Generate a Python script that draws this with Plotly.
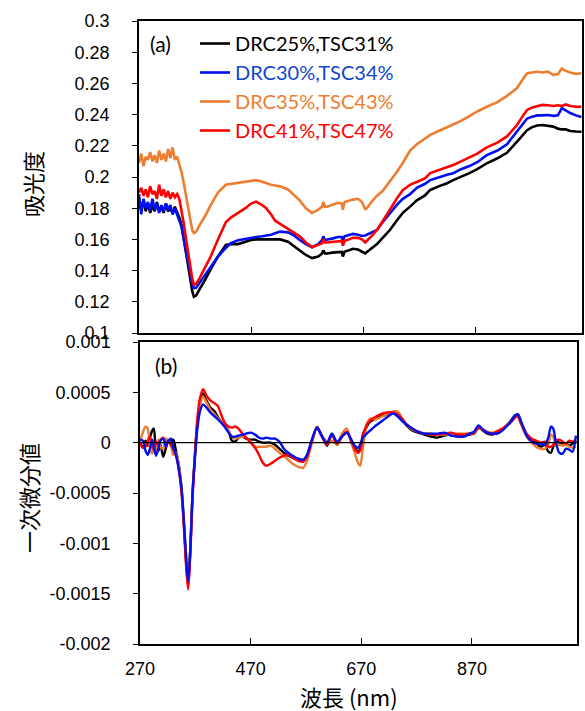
import plotly.graph_objects as go

# ---------------- data ----------------
# (a) absorbance spectra, wavelength in nm
wl_a = [270, 274, 278, 282, 286, 290, 294, 298, 302, 306, 310, 314, 318, 322, 326, 330, 334, 338,
        342, 346, 350, 355, 360, 365, 368, 372, 378, 388, 398, 411, 425, 434, 447, 460, 470, 479,
        490, 497, 506, 513, 522, 536, 545, 557, 568, 579, 590, 597, 599, 602, 606, 615, 625, 632,
        634, 637, 645, 652, 661, 668, 674, 677, 685, 695, 705, 718, 730, 741, 754, 766, 780, 790,
        805, 820, 831, 845, 860, 874, 891, 910, 927, 945, 955, 963, 972, 981, 990, 1000, 1010,
        1018, 1025, 1032, 1040, 1050, 1060]

abs_drc25 = [0.184, 0.179, 0.185, 0.178, 0.183, 0.177, 0.182, 0.178, 0.184, 0.178, 0.181, 0.177,
             0.183, 0.178, 0.180, 0.177, 0.181, 0.178, 0.174, 0.169, 0.160, 0.148, 0.137, 0.127,
             0.1233, 0.124, 0.128, 0.134, 0.141, 0.149, 0.1564, 0.157, 0.157, 0.1585, 0.1596, 0.160,
             0.160, 0.160, 0.160, 0.160, 0.160, 0.1585, 0.156, 0.1532, 0.150, 0.148, 0.149, 0.151,
             0.153, 0.151, 0.151, 0.1515, 0.152, 0.152, 0.149, 0.152, 0.153, 0.154, 0.1535, 0.152,
             0.151, 0.152, 0.154, 0.157, 0.161, 0.166, 0.172, 0.177, 0.181, 0.185, 0.188, 0.1917,
             0.194, 0.196, 0.198, 0.200, 0.2025, 0.205, 0.2088, 0.212, 0.2155, 0.2227, 0.227, 0.230,
             0.232, 0.233, 0.2333, 0.233, 0.2323, 0.231, 0.2305, 0.2305, 0.2295, 0.2292, 0.229]

abs_drc30 = [0.189, 0.176, 0.186, 0.180, 0.184, 0.178, 0.186, 0.179, 0.183, 0.177, 0.182, 0.178,
             0.183, 0.179, 0.182, 0.176, 0.180, 0.176, 0.172, 0.168, 0.160, 0.150, 0.140, 0.132,
             0.1288, 0.129, 0.132, 0.1372, 0.143, 0.149, 0.1545, 0.1577, 0.1595, 0.1605, 0.161, 0.1615,
             0.162, 0.1625, 0.163, 0.164, 0.165, 0.1645, 0.163, 0.1596, 0.157, 0.155, 0.157, 0.1596,
             0.162, 0.159, 0.160, 0.1605, 0.1615, 0.1615, 0.159, 0.162, 0.163, 0.1635, 0.163, 0.1622,
             0.1625, 0.163, 0.1645, 0.166, 0.171, 0.177, 0.182, 0.186, 0.189, 0.193, 0.1955, 0.198,
             0.200, 0.2015, 0.2024, 0.205, 0.207, 0.2095, 0.214, 0.217, 0.221, 0.229, 0.234, 0.2375,
             0.2387, 0.2395, 0.2395, 0.2397, 0.2392, 0.2395, 0.2442, 0.2425, 0.241, 0.2395, 0.2385]

abs_drc35 = [0.209, 0.215, 0.207, 0.213, 0.211, 0.216, 0.210, 0.214, 0.209, 0.217, 0.211, 0.215,
             0.210, 0.218, 0.212, 0.219, 0.211, 0.213, 0.208, 0.203, 0.196, 0.186, 0.175, 0.166,
             0.164, 0.165, 0.169, 0.175, 0.182, 0.190, 0.195, 0.1955, 0.196, 0.197, 0.1975, 0.198,
             0.197, 0.196, 0.195, 0.1945, 0.194, 0.192, 0.189, 0.185, 0.180, 0.177, 0.179, 0.181,
             0.184, 0.181, 0.181, 0.182, 0.1835, 0.183, 0.179, 0.184, 0.185, 0.1855, 0.186, 0.184,
             0.1795, 0.180, 0.184, 0.188, 0.191, 0.197, 0.203, 0.209, 0.217, 0.221, 0.2245, 0.227,
             0.2295, 0.232, 0.2335, 0.236, 0.239, 0.242, 0.245, 0.248, 0.252, 0.257, 0.2625, 0.2665,
             0.267, 0.2675, 0.267, 0.2675, 0.2655, 0.266, 0.2695, 0.268, 0.267, 0.266, 0.2665]

abs_drc41 = [0.190, 0.193, 0.188, 0.192, 0.187, 0.194, 0.189, 0.191, 0.186, 0.195, 0.188, 0.192,
             0.187, 0.191, 0.186, 0.190, 0.187, 0.189, 0.186, 0.179, 0.170, 0.158, 0.146, 0.135,
             0.131, 0.1315, 0.135, 0.1425, 0.149, 0.160, 0.171, 0.174, 0.177, 0.180, 0.183, 0.1842,
             0.182, 0.180, 0.176, 0.172, 0.170, 0.167, 0.165, 0.162, 0.158, 0.155, 0.1565, 0.1575,
             0.160, 0.158, 0.158, 0.1585, 0.159, 0.159, 0.156, 0.159, 0.160, 0.161, 0.161, 0.160,
             0.158, 0.159, 0.162, 0.166, 0.172, 0.179, 0.186, 0.1915, 0.195, 0.197, 0.199, 0.2025,
             0.2045, 0.206, 0.2077, 0.210, 0.2125, 0.215, 0.219, 0.222, 0.226, 0.2333, 0.239, 0.243,
             0.2445, 0.2455, 0.2462, 0.246, 0.2455, 0.246, 0.2455, 0.2465, 0.2455, 0.245, 0.245]

# (b) first derivative spectra, values in units of 1e-4
DERIV_UNIT = 1e-4
wl_b = [270, 275, 280, 284, 288, 292, 295, 299, 303, 307, 312, 317, 321, 326, 330, 335, 340, 345,
        349, 353, 357, 361, 365, 369, 373, 378, 384, 390, 397, 405, 411, 418, 424, 430, 436, 442,
        448, 455, 462, 470, 478, 485, 492, 498, 506, 514, 522, 530, 538, 546, 556, 565, 572, 580,
        590, 598, 608, 617, 626, 635, 644, 652, 658, 664, 668, 673, 680, 686, 694, 704, 716, 727,
        736, 745, 752, 762, 772, 784, 796, 808, 820, 832, 845, 856, 866, 874, 882, 890, 898, 907,
        916, 925, 934, 942, 948, 953, 958, 963, 970, 978, 986, 994, 1002, 1008, 1013, 1017, 1022,
        1028, 1034, 1040, 1046, 1052, 1058]

der_drc25 = [0.0, -0.5, 0.2, -0.3, 0.5, 1.2, 1.4, -0.6, -0.8, -0.2, -1.4, -0.5, 0.2, 0.2, 0.3, -0.8,
             -2.2, -4.5, -7.8, -11.5, -14.3, -10.5, -5.0, -1.5, 1.5, 3.8, 4.9, 4.2, 3.5, 3.1, 2.5,
             2.0, 1.6, 1.2, 0.2, 0.1, 0.5, 0.6, 0.4, 0.3, 0.3, 0.1, 0.0, 0.0, 0.0, -0.2, -0.6, -1.0,
             -1.3, -1.5, -1.6, -1.7, -1.3, 0.0, 1.5, 0.8, -0.3, 0.9, -0.2, 0.6, 1.0, 0.2, -0.4, -0.9,
             -0.6, 0.8, 1.6, 2.1, 2.3, 2.6, 2.8, 2.9, 2.8, 2.2, 1.7, 1.2, 1.0, 0.8, 0.6, 0.5, 0.7,
             0.8, 0.6, 0.7, 0.8, 0.9, 1.5, 1.2, 0.9, 0.8, 1.0, 1.3, 1.8, 2.3, 2.7, 2.8, 2.2, 1.4,
             0.6, 0.2, 0.0, -0.4, -0.2, -0.9, -1.0, -0.4, 0.2, 0.0, -0.2, -0.1, -0.3, -0.1, 0.2]

der_drc30 = [0.3, 0.2, -0.8, -1.2, -0.6, 0.3, -0.4, -1.3, -0.6, 0.2, 0.4, -0.4, 0.2, 0.4, -0.5, -1.2,
             -2.6, -4.5, -7.5, -11.0, -13.8, -10.5, -5.0, -1.8, 1.0, 3.0, 3.8, 3.5, 3.0, 2.6, 2.3,
             1.9, 1.5, 1.0, 0.6, 0.6, 0.7, 0.8, 0.9, 1.0, 0.8, 0.5, 0.4, 0.5, 0.4, 0.4, 0.1, -0.6,
             -1.0, -1.3, -1.6, -1.7, -1.2, 0.2, 1.5, 0.7, 0.0, 0.9, 0.1, 0.6, 1.0, 0.3, -0.3, -0.5,
             -0.2, 0.5, 0.9, 1.2, 1.6, 2.0, 2.5, 2.9, 2.6, 2.1, 1.8, 1.4, 1.1, 0.9, 0.9, 0.9, 1.0,
             0.7, 0.6, 0.6, 0.9, 1.1, 1.7, 1.3, 1.0, 0.9, 0.9, 1.2, 1.7, 2.2, 2.7, 2.8, 2.2, 1.5,
             0.6, 0.1, -0.1, -0.1, -0.2, 0.5, 1.6, 1.4, 0.0, -1.0, -1.1, -0.6, -0.7, -0.9, 0.7]

der_drc35 = [0.0, 1.0, 1.6, 1.4, -0.5, -1.1, -0.6, -0.9, 0.3, -0.4, -0.6, 0.4, 0.2, -0.2, -1.2, -1.0,
             -2.2, -4.5, -7.5, -11.0, -14.0, -10.5, -5.0, -1.5, 1.5, 3.5, 4.6, 4.0, 3.3, 2.8, 2.4,
             2.0, 1.6, 1.2, 0.6, 0.4, 0.5, 0.6, 0.5, 0.1, -0.4, -0.4, -0.4, -0.4, -0.3, -0.6, -1.0,
             -1.3, -1.7, -2.1, -2.4, -2.5, -1.8, -0.2, 1.6, 0.8, 0.1, 0.2, -0.2, 0.9, 1.4, 0.0, -1.0,
             -2.0, -2.3, -0.5, 1.8, 2.4, 2.3, 2.5, 2.8, 3.1, 3.1, 2.3, 1.8, 1.3, 1.1, 0.9, 0.9, 0.8,
             0.8, 0.8, 0.9, 0.9, 0.9, 1.0, 1.4, 1.3, 1.1, 1.0, 1.2, 1.4, 1.8, 2.2, 2.6, 2.6, 2.0,
             1.2, 0.5, 0.0, -0.4, -0.6, -0.6, -0.2, 0.8, 0.6, -0.3, -0.2, -0.3, -0.2, -0.4, -0.5, -0.4]

der_drc41 = [0.0, -0.5, -0.4, 0.2, 0.6, -0.4, -0.7, 0.1, -0.3, 0.3, 0.5, -0.2, 0.2, -0.3, -0.6, -1.3,
             -2.6, -5.0, -8.0, -12.0, -14.6, -11.0, -5.5, -1.5, 2.0, 4.3, 5.3, 4.7, 4.2, 3.9, 3.6,
             2.6, 1.9, 1.6, 1.5, 1.6, 1.4, 0.9, 0.5, 0.0, -0.5, -1.2, -2.0, -2.3, -2.1, -1.8, -1.5,
             -1.3, -1.2, -1.5, -1.8, -1.9, -1.4, 0.0, 1.5, 0.7, -0.2, 0.8, -0.1, 0.6, 1.1, 0.1, -0.6,
             -1.0, -0.8, 0.7, 1.8, 2.2, 2.5, 2.8, 3.0, 3.0, 2.8, 2.3, 1.8, 1.4, 1.1, 0.9, 0.8, 0.8,
             0.9, 1.0, 0.8, 0.8, 0.9, 1.0, 1.5, 1.3, 1.0, 0.9, 1.1, 1.4, 1.7, 2.1, 2.5, 2.6, 2.0,
             1.5, 0.8, 0.4, 0.2, 0.0, 0.1, -0.4, -0.4, -0.2, 0.2, 0.3, 0.1, -0.1, 0.2, 0.1, 0.3]

series_names = ["DRC25%,TSC31%", "DRC30%,TSC34%", "DRC35%,TSC43%", "DRC41%,TSC47%"]
line_colors = ["#000000", "#0010F0", "#ED7D31", "#FF0000"]
text_colors = ["#000000", "#1046D0", "#ED7D31", "#FF0000"]

abs_series = [abs_drc25, abs_drc30, abs_drc35, abs_drc41]
der_series = [der_drc25, der_drc30, der_drc35, der_drc41]

a_ticks = [0.1, 0.12, 0.14, 0.16, 0.18, 0.2, 0.22, 0.24, 0.26, 0.28, 0.3]
a_ticklabels = ["0.1", "0.12", "0.14", "0.16", "0.18", "0.2", "0.22", "0.24", "0.26", "0.28", "0.3"]
b_ticks = [-0.002, -0.0015, -0.001, -0.0005, 0, 0.0005, 0.001]
b_ticklabels = ["-0.002", "-0.0015", "-0.001", "-0.0005", "0", "0.0005", "0.001"]
x_ticks = [270, 470, 670, 870]

# ---------------- figure ----------------
W, H = 585, 711
TICK_FONT = dict(family="Liberation Sans", size=18, color="black")
SANS = "Lato"
CJK = "Noto Sans CJK JP"

fig = go.Figure()

for i in range(4):
    fig.add_trace(go.Scatter(
        x=wl_a, y=abs_series[i], mode="lines",
        name=f'<span style="color:{text_colors[i]}">{series_names[i]}</span>',
        line=dict(color=line_colors[i], width=2.6),
        legendgroup=f"g{i}", xaxis="x", yaxis="y",
    ))

# derivative panel: blue drawn last so it sits on top
for i in [0, 2, 3, 1]:
    fig.add_trace(go.Scatter(
        x=wl_b, y=[v * DERIV_UNIT for v in der_series[i]], mode="lines",
        line=dict(color=line_colors[i], width=2.4, shape="spline", smoothing=0.8),
        showlegend=False, xaxis="x2", yaxis="y2",
    ))


def px_x(p):
    return p / W


def px_y(p):
    return 1 - p / H


axis_common = dict(
    showgrid=False, zeroline=False, showline=True, linecolor="black", linewidth=1.5,
    mirror=True, tickcolor="black", automargin=False, tickfont=TICK_FONT,
)

fig.update_layout(
    width=W, height=H,
    font=dict(family="Liberation Sans", size=18, color="black"),
    margin=dict(l=0, r=0, t=0, b=0, pad=0, autoexpand=False),
    paper_bgcolor="white", plot_bgcolor="white",
    xaxis=dict(domain=[px_x(139), px_x(582)], range=[270, 1061], anchor="y",
               tickvals=x_ticks, showticklabels=False, ticks="inside", ticklen=6,
               **axis_common),
    yaxis=dict(domain=[px_y(333), px_y(21)], range=[0.1, 0.3], anchor="x",
               tickvals=a_ticks, ticktext=a_ticklabels, ticks="outside", ticklen=5,
               ticklabelstandoff=19, **axis_common),
    xaxis2=dict(domain=[px_x(140), px_x(577)], range=[270, 1060], anchor="y2",
                tickvals=x_ticks, ticktext=[str(v) for v in x_ticks], ticks="inside", ticklen=6,
                ticklabelstandoff=8, **axis_common),
    yaxis2=dict(domain=[px_y(644), px_y(342)], range=[-0.002, 0.001], anchor="x2",
                tickvals=b_ticks, ticktext=b_ticklabels, ticks="outside", ticklen=5,
                ticklabelstandoff=19, **axis_common),
    legend=dict(x=px_x(195), y=px_y(24), xanchor="left", yanchor="top",
                bgcolor="rgba(0,0,0,0)", borderwidth=0,
                font=dict(family=SANS, size=20), traceorder="grouped", tracegroupgap=0,
                itemwidth=30),
    showlegend=True,
)

# zero reference line in the derivative panel
fig.add_shape(type="line", xref="x2 domain", yref="y2", x0=0, x1=1, y0=0, y1=0,
              line=dict(color="black", width=1.2))

annotations = [
    dict(text="(a)", x=px_x(148), y=px_y(43), xanchor="left", yanchor="middle",
         font=dict(family=SANS, size=21, color="black")),
    dict(text="(b)", x=px_x(153), y=px_y(365), xanchor="left", yanchor="middle",
         font=dict(family=SANS, size=21, color="black")),
    dict(text="吸光度", x=px_x(32), y=px_y(184), textangle=-90, xanchor="center", yanchor="middle",
         font=dict(family=CJK, size=22, color="black")),
    dict(text="一次微分値", x=px_x(28), y=px_y(498), textangle=-90, xanchor="center",
         yanchor="middle", font=dict(family=CJK, size=22, color="black")),
    dict(text="波長 (nm)", x=px_x(349), y=px_y(696), xanchor="center", yanchor="middle",
         font=dict(family=CJK, size=22, color="black")),
]
for a in annotations:
    fig.add_annotation(xref="paper", yref="paper", showarrow=False, **a)

fig.write_html("out.html")
